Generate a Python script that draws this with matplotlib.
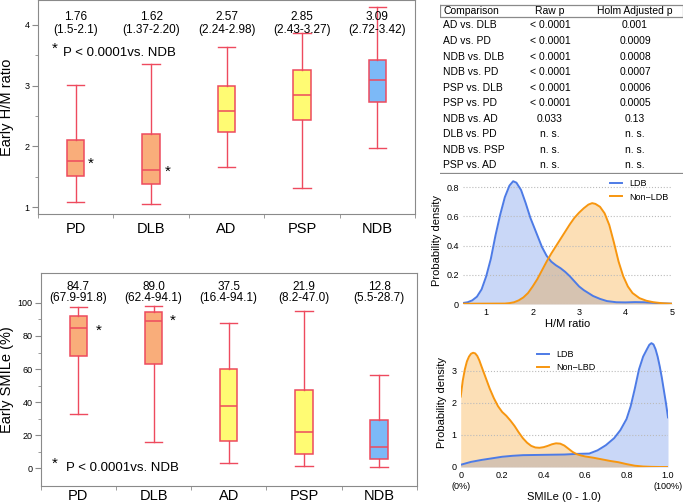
import matplotlib
matplotlib.use("Agg")
import matplotlib.pyplot as plt
import numpy as np

plt.rcParams['font.family'] = ['Liberation Sans', 'DejaVu Sans']

# Box plot data
groups = ['PD', 'DLB', 'AD', 'PSP', 'NDB']
box_colors = ['#f9ad7a', '#f9ad7a', '#fffb73', '#fffb73', '#7cb9f7']

hm_whislo = [1.08, 1.05, 1.66, 1.32, 1.97]
hm_q1 = [1.51, 1.38, 2.24, 2.43, 2.73]
hm_med = [1.76, 1.61, 2.58, 2.85, 3.09]
hm_q3 = [2.10, 2.20, 2.99, 3.26, 3.42]
hm_whishi = [3.01, 3.36, 3.64, 3.86, 4.30]
hm_label = ['1.76', '1.62', '2.57', '2.85', '3.09']
hm_range = ['(1.5-2.1)', '(1.37-2.20)', '(2.24-2.98)', '(2.43-3.27)', '(2.72-3.42)']

sm_whislo = [32.9, 15.9, 3.2, 1.6, 0.8]
sm_q1 = [68.1, 62.9, 16.5, 8.5, 5.8]
sm_med = [84.9, 89.3, 37.7, 22.0, 12.9]
sm_q3 = [92.1, 94.6, 60.1, 47.2, 29.4]
sm_whishi = [97.4, 98.0, 87.9, 95.2, 56.5]
sm_label = ['84.7', '89.0', '37.5', '21.9', '12.8']
sm_range = ['(67.9-91.8)', '(62.4-94.1)', '(16.4-94.1)', '(8.2-47.0)', '(5.5-28.7)']

# Table
comparisons = ['AD vs. DLB', 'AD vs. PD', 'NDB vs. DLB', 'NDB vs. PD', 'PSP vs. DLB',
               'PSP vs. PD', 'NDB vs. AD', 'DLB vs. PD', 'NDB vs. PSP', 'PSP vs. AD']
raw_p = ['< 0.0001'] * 6 + ['0.033', 'n. s.', 'n. s.', 'n. s.']
holm_p = ['0.001', '0.0009', '0.0008', '0.0007', '0.0006', '0.0005', '0.13', 'n. s.', 'n. s.', 'n. s.']

# Density curves
hm_x_ldb = [0.5, 0.6, 0.7, 0.8, 0.9, 1.0, 1.1, 1.2, 1.3, 1.4, 1.5, 1.58, 1.65, 1.75, 1.85, 1.95,
            2.05, 2.1, 2.2, 2.3, 2.4, 2.5, 2.6, 2.7, 2.8, 2.9, 3.0, 3.1, 3.2, 3.3, 3.45, 3.6,
            3.8, 4.0, 4.2, 4.4, 4.6, 4.8, 5.0]
hm_y_ldb = [0.007, 0.012, 0.025, 0.05, 0.10, 0.19, 0.31, 0.47, 0.61, 0.73, 0.81, 0.84, 0.83,
            0.78, 0.69, 0.59, 0.51, 0.47, 0.39, 0.33, 0.29, 0.265, 0.245, 0.22, 0.19, 0.155,
            0.12, 0.095, 0.075, 0.055, 0.035, 0.02, 0.012, 0.011, 0.013, 0.012, 0.008, 0.004,
            0.002]
hm_x_non = [0.5, 1.4, 1.5, 1.6, 1.7, 1.8, 1.9, 2.0, 2.1, 2.2, 2.3, 2.4, 2.5, 2.6, 2.7, 2.8, 2.9,
            3.0, 3.1, 3.2, 3.28, 3.35, 3.45, 3.55, 3.65, 3.75, 3.85, 3.95, 4.05, 4.15, 4.3,
            4.45, 4.6, 4.8, 5.0]
hm_y_non = [0.002, 0.003, 0.006, 0.012, 0.025, 0.045, 0.075, 0.12, 0.17, 0.23, 0.29, 0.345,
            0.395, 0.445, 0.495, 0.545, 0.59, 0.625, 0.655, 0.68, 0.69, 0.685, 0.665, 0.62,
            0.54, 0.42, 0.29, 0.19, 0.12, 0.075, 0.04, 0.022, 0.012, 0.005, 0.002]

sm_x_ldb = [0.0, 0.05, 0.1, 0.15, 0.2, 0.25, 0.3, 0.4, 0.5, 0.56, 0.62, 0.66, 0.70, 0.74, 0.77,
            0.80, 0.82, 0.84, 0.86, 0.88, 0.90, 0.91, 0.92, 0.93, 0.94, 0.95, 0.96, 0.97, 0.98,
            0.99, 1.0]
sm_y_ldb = [0.07, 0.16, 0.22, 0.27, 0.32, 0.35, 0.37, 0.38, 0.39, 0.41, 0.42, 0.52, 0.68, 0.9,
            1.15, 1.5, 1.9, 2.45, 3.05, 3.45, 3.7, 3.82, 3.87, 3.83, 3.68, 3.45, 3.15, 2.8, 2.4,
            2.0, 1.55]
sm_x_non = [0.0, 0.01, 0.02, 0.03, 0.04, 0.05, 0.06, 0.07, 0.08, 0.09, 0.10, 0.12, 0.14, 0.16,
            0.18, 0.20, 0.22, 0.24, 0.26, 0.28, 0.30, 0.32, 0.34, 0.36, 0.38, 0.40, 0.42, 0.44,
            0.46, 0.48, 0.50, 0.52, 0.54, 0.56, 0.58, 0.60, 0.64, 0.68, 0.72, 0.76, 0.80, 0.84,
            0.88, 0.92, 0.96, 1.0]
sm_y_non = [2.2, 2.7, 3.05, 3.3, 3.45, 3.54, 3.57, 3.55, 3.47, 3.33, 3.15, 2.8, 2.45, 2.15, 1.9,
            1.72, 1.6, 1.45, 1.28, 1.08, 0.9, 0.76, 0.66, 0.61, 0.60, 0.62, 0.66, 0.71, 0.74,
            0.73, 0.67, 0.57, 0.47, 0.40, 0.36, 0.33, 0.29, 0.24, 0.19, 0.15, 0.09, 0.04, 0.015,
            0.005, 0.0, 0.0]

edge = '#ee4a5e'
spine_c = '#8a8a8a'
blue = '#4d7be6'
orange = '#f7960f'

fig = plt.figure(figsize=(6.85, 5.04), dpi=100)


def box_panel(ax, whislo, q1, med, q3, whishi, lab, rng, ylab, ylim, major, minor,
              lab_y, rng_y, star_pts, note_xy, xpad, ylab_x):
    stats = []
    for i in range(len(groups)):
        stats.append(dict(whislo=whislo[i], q1=q1[i], med=med[i], q3=q3[i], whishi=whishi[i]))
    pos = np.arange(1, len(groups) + 1)
    bp = ax.bxp(stats, positions=pos, widths=0.23, capwidths=0.23, showfliers=False,
                patch_artist=True,
                boxprops=dict(edgecolor=edge, linewidth=1.1),
                medianprops=dict(color=edge, linewidth=1.1),
                whiskerprops=dict(color=edge, linewidth=1.0),
                capprops=dict(color=edge, linewidth=1.0))
    for p, c in zip(bp['boxes'], box_colors):
        p.set_facecolor(c)
    for i in range(len(groups)):
        ax.text(pos[i], lab_y, lab[i], ha='center', va='center', fontsize=8.5)
        ax.text(pos[i], rng_y, rng[i], ha='center', va='center', fontsize=8.5)
    for (sx, sy) in star_pts:
        ax.text(sx, sy, '*', ha='center', va='center', fontsize=11)
    ax.text(note_xy[0], note_xy[1], '*', ha='center', va='center', fontsize=11)
    ax.text(note_xy[3], note_xy[1] - note_xy[2], 'P < 0.0001vs. NDB', ha='left',
            va='center', fontsize=9.5)
    ax.set_xlim(0.5, 5.5)
    ax.set_ylim(*ylim)
    ax.set_xticks(pos)
    ax.set_xticklabels(groups, fontsize=10.5)
    ax.set_xticks(np.arange(0.5, 5.6, 1.0), minor=True)
    ax.tick_params(axis='x', which='major', length=0, pad=xpad)
    ax.tick_params(axis='x', which='minor', length=3, color=spine_c)
    ax.set_yticks(major)
    ax.set_yticks(minor, minor=True)
    ax.tick_params(axis='y', which='major', labelsize=6.5, length=4, color=spine_c, pad=2)
    ax.tick_params(axis='y', which='minor', length=2, color=spine_c)
    ax.set_ylabel(ylab, fontsize=10.5)
    ax.yaxis.set_label_coords(ylab_x, 0.5)
    for s in ax.spines.values():
        s.set_color(spine_c)


ax1 = fig.add_axes([0.0555, 0.5754, 0.5504, 0.4246])
box_panel(ax1, hm_whislo, hm_q1, hm_med, hm_q3, hm_whishi, hm_label, hm_range,
          'Early H/M ratio', (0.885, 4.41), [1, 2, 3, 4], np.arange(1.5, 4.1, 0.5),
          4.13, 3.91, [(1.20, 1.72), (2.22, 1.58)], (0.72, 3.60, 0.07, 0.83), 6,
          (14 - 38) / 377)

ax2 = fig.add_axes([0.0594, 0.0357, 0.549, 0.4226])
box_panel(ax2, sm_whislo, sm_q1, sm_med, sm_q3, sm_whishi, sm_label, sm_range,
          'Early SMILe (%)', (-10.6, 118), [0, 20, 40, 60, 80, 100], np.arange(10, 101, 20),
          109.7, 103.0, [(1.27, 83.0), (2.26, 89.0)], (0.68, 3.0, 3.0, 0.84), 2,
          (14 - 40.7) / 376)

# Table
axt = fig.add_axes([440 / 685, 1 - 174 / 504, 243 / 685, 170 / 504])
axt.set_xlim(440, 683)
axt.set_ylim(174, 4)
axt.axis('off')
axt.plot([440, 683, 683, 440, 440], [5, 5, 17, 17, 5], color=spine_c, lw=0.9)
axt.plot([440, 683], [173, 173], color=spine_c, lw=0.9)
axt.text(443, 11, 'Comparison', ha='left', va='center', fontsize=7.5)
axt.text(550, 11, 'Raw p', ha='center', va='center', fontsize=7.5)
axt.text(635, 11, 'Holm Adjusted p', ha='center', va='center', fontsize=7.5)
for i in range(len(comparisons)):
    y = 25.5 + i * 15.55
    axt.text(443, y, comparisons[i], ha='left', va='center', fontsize=7.5)
    axt.text(550, y, raw_p[i], ha='center', va='center', fontsize=7.5)
    axt.text(635, y, holm_p[i], ha='center', va='center', fontsize=7.5)


def density_panel(ax, xl, yl, xn, yn, name_non, xlim, ylim, yticks, xlab):
    ax.fill_between(xl, yl, color=blue, alpha=0.3, lw=0)
    ax.fill_between(xn, yn, color=orange, alpha=0.3, lw=0)
    ax.plot(xl, yl, color=blue, lw=1.4, label='LDB')
    ax.plot(xn, yn, color=orange, lw=1.4, label=name_non)
    ax.set_xlim(*xlim)
    ax.set_ylim(*ylim)
    ax.set_yticks(yticks)
    ax.grid(axis='y', linestyle=':', color='#bbbbbb', lw=0.8)
    for s in ax.spines.values():
        s.set_visible(False)
    ax.tick_params(length=0, labelsize=6.5, pad=3)
    ax.set_ylabel('Probability density', fontsize=8, labelpad=3)
    ax.set_xlabel(xlab, fontsize=8, labelpad=1)


ax3 = fig.add_axes([463 / 685, 1 - 304 / 504, 209 / 685, 126 / 504])
density_panel(ax3, hm_x_ldb, hm_y_ldb, hm_x_non, hm_y_non, 'Non\u2212LDB', (0.5, 5.0),
              (0, 0.862), [0, 0.2, 0.4, 0.6, 0.8], 'H/M ratio')
ax3.set_yticklabels(['0', '0.2', '0.4', '0.6', '0.8'])
ax3.set_xticks([1, 2, 3, 4, 5])
ax3.legend(loc='upper right', frameon=False, fontsize=6.5, handlelength=1.3,
           borderaxespad=0.0, bbox_to_anchor=(1.0, 1.02))

ax4 = fig.add_axes([460.7 / 685, 1 - 467 / 504, 207.3 / 685, 128 / 504])
density_panel(ax4, sm_x_ldb, sm_y_ldb, sm_x_non, sm_y_non, 'Non\u2212LBD', (0.0, 1.0),
              (0, 4.0), [0, 1, 2, 3], 'SMILe (0 - 1.0)')
ax4.set_xticks([0, 0.2, 0.4, 0.6, 0.8, 1.0])
ax4.set_xticklabels(['0\n(0%)', '0.2', '0.4', '0.6', '0.8', '1.0\n(100%)'])
ax4.legend(loc='upper left', frameon=False, fontsize=6.5, handlelength=1.3,
           bbox_to_anchor=(0.33, 0.98))

fig.savefig('out.png', dpi=100)
